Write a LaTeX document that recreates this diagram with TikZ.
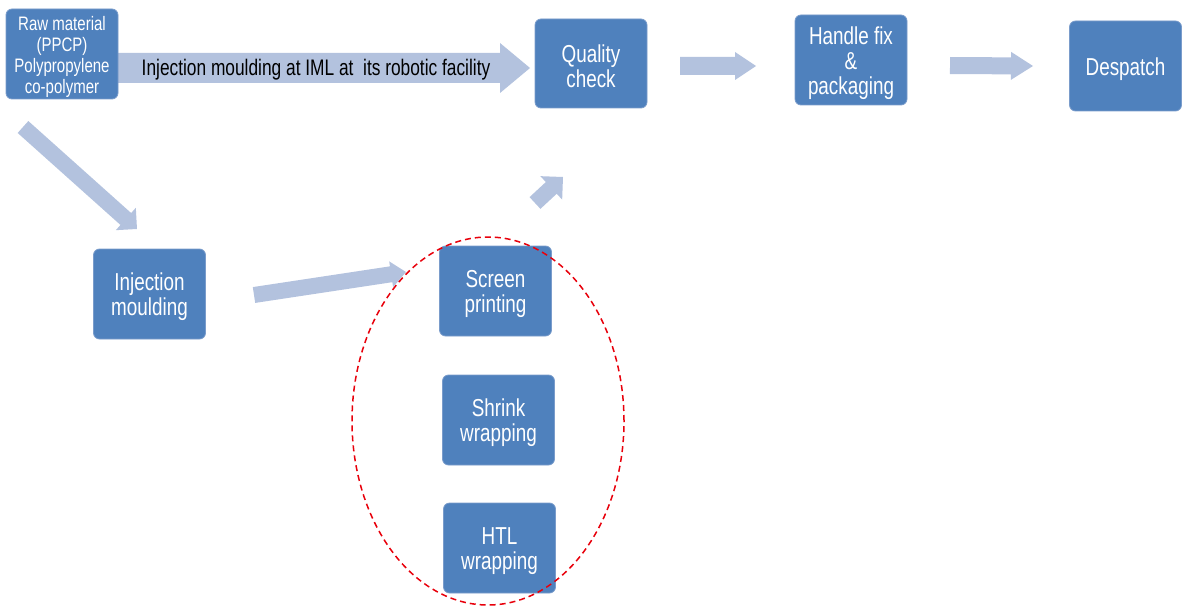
\documentclass[tikz,border=0pt]{standalone}
\usepackage{fontspec}
\setmainfont{Liberation Sans}[FakeStretch=0.77]
\definecolor{boxblue}{HTML}{4F81BD}
\definecolor{boxedge}{HTML}{7A9CCB}
\definecolor{arrblue}{HTML}{B3C2DE}
\definecolor{ellred}{HTML}{E8000B}
\tikzset{
  stepbox/.style={fill=boxblue, draw=boxedge, line width=0.8pt, rounded corners=6pt,
    minimum width=112pt, minimum height=90pt, inner sep=0pt},
  boxtext/.style={text=white, align=center, inner sep=0pt, yshift=-3pt,
    font=\fontsize{24.5}{25}\selectfont},
  arrfill/.style={fill=arrblue},
}
% block arrow: tail x, tail y, tip x, tip y (pixel coords, y down), shaft half, head half, head length
\newcommand\blockarr[7]{%
  \pgfmathsetmacro\baang{atan2(#2-#4,#3-#1)}%
  \pgfmathsetmacro\balen{veclen(#3-#1,#4-#2)}%
  \begin{scope}[shift={(#1pt,-#2pt)},rotate=\baang]
    \fill[arrfill] (0pt,-#5pt) -- (\balen pt-#7pt,-#5pt) -- (\balen pt-#7pt,-#6pt) -- (\balen pt,0pt)
      -- (\balen pt-#7pt,#6pt) -- (\balen pt-#7pt,#5pt) -- (0pt,#5pt) -- cycle;
  \end{scope}}
\begin{document}
\begin{tikzpicture}[x=1pt,y=1pt]
\useasboundingbox (0,0) rectangle (1185,-607);
% arrows
\blockarr{118}{68}{530}{68}{15}{25}{30}
\blockarr{680}{66}{756}{66}{9}{14}{21}
\blockarr{950}{65.5}{1033}{66}{8.5}{14}{22}
\blockarr{23}{127}{137}{229}{8}{15}{15}
\blockarr{254}{295}{406}{272}{8}{13}{15}
\blockarr{535}{203}{563}{177}{8}{16}{16}
% label on big arrow
\node[font=\fontsize{22.5}{24}\selectfont, inner sep=0pt] (lab) at (316,-70) {Injection moulding at IML at\ \ its robotic facility};
% boxes
\node[stepbox] (raw) at (62,-54) {};
\node[boxtext, font=\fontsize{19.5}{21}\selectfont] (rawt) at (raw.center) {Raw material\\(PPCP)\\Polypropylene\\co-polymer};
\node[stepbox, minimum height=89pt] (qc) at (591,-63.5) {};
\node[boxtext] (qct) at (qc.center) {Quality\\check};
\node[stepbox] (hf) at (851,-60) {};
\node[boxtext] (hft) at (hf.center) {Handle fix\\\&\\packaging};
\node[stepbox] (desp) at (1125.5,-66) {};
\node[boxtext] (despt) at (desp.center) {Despatch};
\node[stepbox] (inj) at (149.5,-294) {};
\node[boxtext] (injt) at (inj.center) {Injection\\moulding};
\node[stepbox] (scr) at (495.5,-291) {};
\node[boxtext] (scrt) at (scr.center) {Screen\\printing};
\node[stepbox] (shr) at (498.5,-420) {};
\node[boxtext] (shrt) at (shr.center) {Shrink\\wrapping};
\node[stepbox] (htl) at (499.5,-548) {};
\node[boxtext] (htlt) at (htl.center) {HTL\\wrapping};
% dashed ellipse
\draw[ellred, line width=1.5pt, dash pattern=on 6pt off 4pt] (488,-421) ellipse [x radius=136, y radius=184];
\end{tikzpicture}
\end{document}
